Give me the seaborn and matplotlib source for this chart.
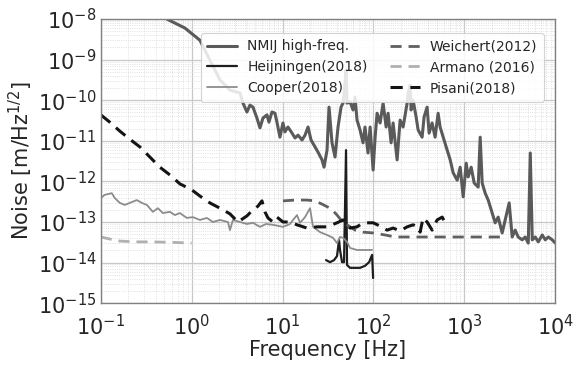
import numpy as np
import pandas as pd
import matplotlib
matplotlib.use("Agg")
import matplotlib.pyplot as plt
import seaborn as sns
from matplotlib.ticker import LogLocator, NullFormatter

# ---- data (log10 of frequency [Hz], log10 of noise [m/Hz^1/2]) ----
nmij_lf = [-0.273, -0.075, 0.090, 0.200, 0.311, 0.421, 0.531, 0.564, 0.608, 0.641, 0.674, 0.718,
           0.751, 0.784, 0.828, 0.850, 0.883, 0.916, 0.938, 0.971, 1.004, 1.026, 1.059, 1.104,
           1.137, 1.170, 1.214, 1.247, 1.280, 1.313, 1.357, 1.390, 1.434, 1.456, 1.489, 1.511,
           1.544, 1.577, 1.610, 1.643, 1.665, 1.687, 1.698, 1.709, 1.742, 1.775, 1.797, 1.819,
           1.852, 1.885, 1.907, 1.940, 1.963, 1.996, 2.018, 2.040, 2.073, 2.106, 2.139, 2.161,
           2.194, 2.216, 2.260, 2.282, 2.293, 2.326, 2.370, 2.381, 2.403, 2.414, 2.436, 2.469,
           2.491, 2.535, 2.557, 2.590, 2.612, 2.645, 2.678, 2.711, 2.733, 2.767, 2.811, 2.844,
           2.877, 2.921, 2.954, 2.987, 3.020, 3.042, 3.075, 3.108, 3.152, 3.174, 3.196, 3.229,
           3.262, 3.306, 3.339, 3.372, 3.416, 3.449, 3.493, 3.526, 3.559, 3.592, 3.636, 3.669,
           3.703, 3.725, 3.747, 3.780, 3.813, 3.857, 3.890, 3.923, 3.967, 4.0]
nmij_ln = [-8.00, -8.22, -8.52, -9.01, -9.50, -9.75, -9.82, -10.07, -10.29, -10.12, -10.17, -10.44,
           -10.68, -10.44, -10.36, -10.54, -10.29, -10.32, -10.54, -10.91, -10.56, -10.78, -10.66, -10.81,
           -10.93, -10.86, -10.98, -10.86, -10.66, -10.98, -11.15, -11.28, -11.47, -11.65, -11.23, -10.17,
           -11.05, -11.40, -10.66, -10.17, -10.07, -9.58, -9.26, -10.07, -10.04, -10.24, -9.92, -10.49,
           -10.73, -11.05, -10.66, -11.30, -10.66, -11.72, -10.91, -10.32, -10.56, -10.07, -10.66, -10.32,
           -11.05, -10.56, -11.47, -10.81, -10.49, -10.66, -10.07, -9.82, -9.63, -10.24, -10.00, -10.41,
           -10.73, -10.91, -10.41, -10.17, -10.81, -10.56, -10.91, -10.32, -10.66, -10.91, -11.23, -11.47,
           -11.79, -11.97, -11.65, -12.38, -11.55, -11.89, -11.65, -12.04, -12.14, -10.91, -12.04, -12.29,
           -12.46, -12.78, -13.02, -12.88, -13.27, -12.95, -12.53, -13.37, -13.20, -13.37, -13.44, -13.37,
           -13.52, -11.30, -13.44, -13.37, -13.49, -13.32, -13.44, -13.37, -13.44, -13.52]

heij_lf = [1.478, 1.522, 1.566, 1.599, 1.621, 1.632, 1.654, 1.676, 1.698, 1.709, 1.742, 1.797,
           1.852, 1.907, 1.952, 1.985, 1.996]
heij_ln = [-13.94, -13.99, -13.94, -13.84, -13.44, -13.69, -13.99, -13.99, -11.23, -14.06, -14.13, -14.13,
           -14.13, -14.08, -13.99, -13.81, -14.38]

cooper_lf = [-1.0, -0.956, -0.879, -0.846, -0.791, -0.736, -0.681, -0.604, -0.548, -0.493, -0.427, -0.372,
             -0.317, -0.240, -0.185, -0.130, -0.053, 0.013, 0.090, 0.167, 0.233, 0.311, 0.399, 0.421,
             0.454, 0.531, 0.608, 0.674, 0.751, 0.817, 0.894, 1.004, 1.081, 1.115, 1.159, 1.192,
             1.247, 1.302, 1.335, 1.412, 1.489, 1.555, 1.599, 1.632, 1.665, 1.709, 1.742, 1.819,
             1.930, 1.985]
cooper_ln = [-12.41, -12.33, -12.29, -12.41, -12.53, -12.58, -12.53, -12.46, -12.53, -12.58, -12.75, -12.66,
             -12.78, -12.75, -12.83, -12.78, -12.90, -12.88, -12.95, -12.90, -13.0, -12.95, -13.0, -13.20,
             -12.95, -13.0, -13.05, -13.02, -13.12, -13.05, -13.07, -13.12, -13.05, -12.95, -12.83, -13.02,
             -12.88, -12.66, -13.12, -13.25, -13.32, -13.39, -13.52, -13.37, -13.39, -13.49, -13.64, -13.69,
             -13.69, -13.69]

weich_lf = [1.004, 1.137, 1.269, 1.357, 1.434, 1.522, 1.588, 1.643, 1.709, 1.797, 1.885, 1.996,
            2.128, 2.238, 2.403, 2.623, 2.844, 3.064, 3.284, 3.427]
weich_ln = [-12.48, -12.46, -12.46, -12.48, -12.56, -12.66, -12.80, -12.95, -13.07, -13.20, -13.25, -13.27,
            -13.32, -13.37, -13.37, -13.37, -13.37, -13.37, -13.37, -13.37]

armano_lf = [-1.0, -0.901, -0.791, -0.626, -0.460, -0.240, 0.0]
armano_ln = [-13.37, -13.42, -13.47, -13.49, -13.49, -13.50, -13.52]

pisani_lf = [-1.0, -0.901, -0.791, -0.681, -0.570, -0.460, -0.350, -0.240, -0.130, 0.002, 0.090, 0.200,
             0.311, 0.421, 0.509, 0.608, 0.674, 0.729, 0.773, 0.806, 0.839, 0.894, 0.938, 1.004,
             1.081, 1.159, 1.269, 1.379, 1.489, 1.599, 1.665, 1.742, 1.819, 1.885, 1.996, 2.073,
             2.150, 2.216, 2.293, 2.370, 2.436, 2.491, 2.513, 2.546, 2.590, 2.645, 2.700, 2.756,
             2.800]
pisani_ln = [-10.36, -10.54, -10.76, -10.96, -11.15, -11.40, -11.65, -11.84, -12.06, -12.21, -12.36, -12.53,
             -12.66, -12.80, -13.0, -12.85, -12.70, -12.61, -12.48, -12.75, -12.90, -13.0, -12.88, -13.0,
             -13.0, -13.07, -13.15, -13.12, -13.12, -13.02, -12.95, -13.15, -13.12, -13.02, -13.02, -13.10,
             -13.20, -13.15, -13.22, -13.12, -13.07, -13.12, -13.25, -12.90, -13.0, -13.20, -12.95, -12.88,
             -13.07]

x_ticks = [0.1, 1, 10, 100, 1000, 10000]
y_ticks = [1e-15, 1e-14, 1e-13, 1e-12, 1e-11, 1e-10, 1e-9, 1e-8]

sns.set_theme(style="whitegrid")
plt.rcParams['font.family'] = ['DejaVu Sans']

fig = plt.figure(figsize=(5.76, 3.67), dpi=100)
ax = fig.add_axes([0.175, 0.174, 0.789, 0.774])


def draw(lf, ln, label, color, ls, lw):
    df = pd.DataFrame({"f": np.power(10.0, lf), "n": np.power(10.0, ln)})
    sns.lineplot(data=df, x="f", y="n", ax=ax, color=color, linestyle=ls, linewidth=lw,
                 label=label, sort=False, estimator=None)


draw(nmij_lf, nmij_ln, "NMIJ high-freq.", "#5a5a5a", "-", 2.2)
draw(heij_lf, heij_ln, "Heijningen(2018)", "#1e1e1e", "-", 1.6)
draw(cooper_lf, cooper_ln, "Cooper(2018)", "#8c8c8c", "-", 1.3)
draw(weich_lf, weich_ln, "Weichert(2012)", "#606060", (0, (4, 2.5)), 2.0)
draw(armano_lf, armano_ln, "Armano (2016)", "#b0b0b0", (0, (4, 2.5)), 2.0)
draw(pisani_lf, pisani_ln, "Pisani(2018)", "#141414", (0, (4, 2.5)), 2.2)

ax.set_xscale("log")
ax.set_yscale("log")
ax.set_xlim(0.1, 1e4)
ax.set_ylim(1e-15, 1e-8)
ax.set_xticks(x_ticks)
ax.set_yticks(y_ticks)
ax.xaxis.set_minor_locator(LogLocator(base=10, subs=np.arange(2, 10), numticks=50))
ax.yaxis.set_minor_locator(LogLocator(base=10, subs=np.arange(2, 10), numticks=50))
ax.xaxis.set_minor_formatter(NullFormatter())
ax.yaxis.set_minor_formatter(NullFormatter())

ax.grid(which="major", color="#c8c8c8", linewidth=0.9, linestyle="-")
ax.grid(which="minor", color="#d8d8d8", linewidth=0.6, linestyle=":")
for s in ax.spines.values():
    s.set_color("#808080")
    s.set_linewidth(1.0)

ax.tick_params(axis="both", which="major", labelsize=15, length=3, color="#808080", direction="in")
ax.tick_params(axis="x", which="major", pad=7.5)
ax.tick_params(axis="y", which="major", pad=3)
ax.tick_params(axis="both", which="minor", length=2, color="#808080", direction="in")

ax.set_xlabel("Frequency [Hz]", fontsize=15, labelpad=1)
ax.set_ylabel(r"Noise [m/Hz$^{1/2}$]", fontsize=15, labelpad=2)

leg = ax.legend(loc="upper right", ncol=2, fontsize=10, frameon=True, framealpha=0.85,
                edgecolor="#cccccc", handlelength=2.2, columnspacing=1.6, handletextpad=0.7,
                bbox_to_anchor=(0.99, 0.975), borderpad=0.45, labelspacing=0.5)
leg.get_frame().set_linewidth(0.8)

fig.savefig("out.png", dpi=100)
